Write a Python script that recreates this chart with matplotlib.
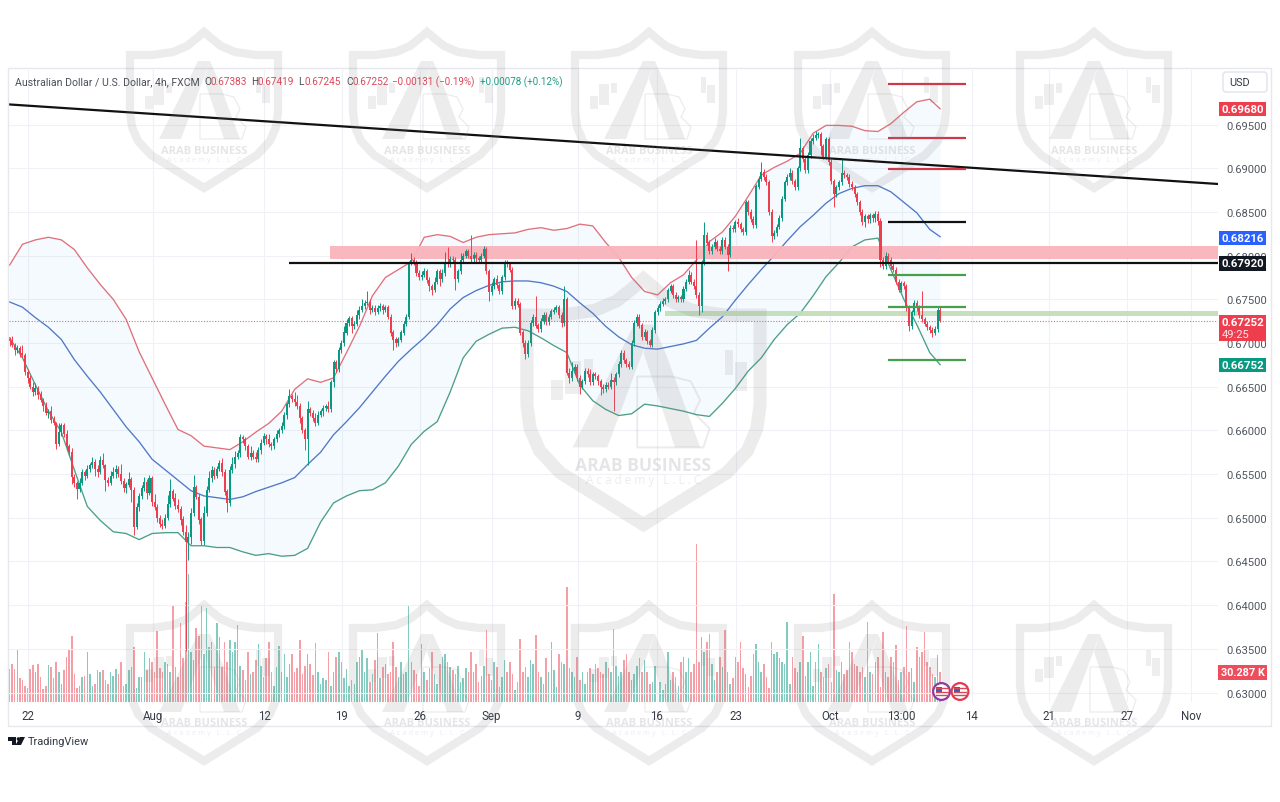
import numpy as np
import matplotlib
matplotlib.use("Agg")
import matplotlib.pyplot as plt
from matplotlib.patches import Rectangle, FancyBboxPatch, Polygon, Circle

plt.rcParams['font.family'] = ['Roboto', 'DejaVu Sans']

# ---------- data (prices in units of 0.0001, volume in thousands) ----------
CLOSES = [
 6702,6698,6692,6694,6688,6686,6667,6660,6650,6644,6648,6641,6635,6628,6620,6622,6612,6608,6585,6598,6606,6596,6582,6575,6547,6540,6533,6540,6552,6548,
 6556,6560,6564,6556,6552,6566,6560,6543,6540,6548,6552,6556,6550,6542,6534,6538,6544,6532,6490,6512,6525,6534,6541,6528,6545,6518,6512,6500,6493,6491,
 6500,6516,6530,6522,6514,6510,6498,6484,6472,6478,6505,6535,6524,6498,6474,6505,6532,6545,6555,6548,6556,6563,6552,6530,6517,6555,6562,6570,6574,6592,
 6590,6582,6570,6574,6570,6567,6578,6586,6593,6590,6584,6582,6590,6596,6600,6605,6618,6630,6639,6636,6632,6628,6614,6600,6590,6624,6620,6614,6609,6618,
 6622,6626,6628,6624,6655,6678,6670,6692,6700,6712,6723,6728,6719,6722,6732,6738,6742,6746,6747,6738,6740,6736,6740,6742,6738,6741,6730,6712,6704,6700,
 6704,6712,6722,6730,6792,6795,6792,6780,6775,6778,6782,6772,6765,6761,6770,6782,6773,6780,6792,6790,6796,6795,6773,6782,6795,6800,6805,6800,6796,6801,
 6797,6795,6800,6807,6782,6758,6765,6773,6766,6759,6775,6792,6790,6784,6742,6748,6744,6712,6700,6687,6700,6723,6730,6720,6716,6725,6732,6724,6730,6736,
 6738,6741,6732,6723,6750,6666,6660,6668,6673,6660,6650,6656,6668,6664,6655,6664,6662,6656,6650,6647,6652,6650,6658,6655,6664,6676,6689,6680,6676,6673,
 6700,6723,6730,6720,6707,6712,6702,6698,6715,6735,6740,6745,6748,6750,6760,6765,6755,6750,6752,6750,6762,6770,6778,6770,6765,6755,6742,6792,6824,6815,
 6805,6810,6815,6808,6805,6818,6810,6801,6832,6830,6838,6836,6830,6827,6861,6850,6842,6835,6879,6888,6896,6890,6884,6850,6822,6826,6833,6843,6865,6884,
 6890,6895,6885,6878,6900,6923,6910,6898,6915,6931,6935,6938,6939,6925,6913,6933,6907,6885,6870,6878,6884,6895,6892,6890,6882,6878,6870,6861,6850,6838,
 6845,6842,6846,6843,6848,6840,6795,6788,6800,6795,6788,6784,6770,6761,6768,6765,6740,6719,6735,6746,6740,6732,6727,6722,6718,6715,6712,6716,6738,6725.2,
]
UPPER_WICK = [
 3,6,2,4,3,10,2,3,3,5,6,3,4,2,4,3,6,4,2,10,3,3,4,2,5,3,2,6,4,3,
 4,3,6,3,4,5,8,2,4,5,6,4,3,12,4,3,8,3,3,5,3,4,6,3,4,3,9,4,3,6,
 4,10,14,3,6,8,3,4,8,6,6,14,3,3,3,8,4,8,4,3,3,3,5,4,3,4,8,6,3,4,
 3,3,3,8,3,5,3,4,4,3,6,3,3,4,3,5,3,3,8,3,8,8,3,3,3,10,3,3,6,4,
 3,3,2,6,3,3,3,4,3,8,4,3,3,3,6,4,8,3,12,3,4,4,3,4,3,3,3,3,3,3,
 3,3,3,3,2,8,3,3,4,4,4,3,3,3,6,3,3,5,12,18,3,3,3,3,8,3,3,3,24,3,
 3,3,3,4,3,3,5,3,5,3,3,3,3,3,3,3,3,3,3,3,3,3,3,24,3,4,3,3,3,3,
 3,3,3,3,15,3,5,10,3,3,3,3,3,3,6,3,3,3,3,3,3,3,8,3,3,3,3,3,3,3,
 3,3,3,3,3,4,3,3,3,3,3,3,3,3,3,3,3,3,3,3,3,3,5,3,3,53,3,3,14,3,
 3,3,5,3,3,3,3,3,3,3,3,5,3,3,3,3,3,3,3,3,11,3,3,3,3,3,3,3,3,3,
 3,5,3,3,3,12,3,3,3,4,4,5,3,3,3,3,3,3,3,3,3,15,3,3,3,3,3,3,3,3,
 3,3,3,3,3,3,3,3,4,3,3,3,3,3,3,3,3,3,3,3,3,3,27,3,3,3,3,3,4,3.5,
]
LOWER_WICK = [
 5,3,6,3,4,2,4,6,3,5,3,5,3,6,2,6,3,2,6,3,4,3,5,3,8,5,12,3,3,5,
 3,4,3,8,5,2,3,12,4,3,3,6,3,3,4,6,3,14,10,3,4,3,3,6,2,4,3,5,3,4,
 3,3,4,3,4,3,6,4,124,20,8,3,3,5,5,5,3,3,4,4,3,3,4,4,10,3,4,5,3,4,
 4,5,3,4,3,3,3,5,3,6,3,5,3,3,4,3,3,5,3,3,4,3,5,3,12,30,4,3,4,3,
 3,5,4,3,3,5,3,3,3,4,3,3,7,3,3,4,3,3,3,5,3,4,3,3,5,3,3,4,12,5,
 4,3,3,3,3,3,3,3,3,3,3,3,5,6,3,3,8,3,3,3,3,3,12,3,3,3,3,3,3,3,
 4,3,3,3,3,10,3,3,3,3,3,3,3,3,3,3,3,3,5,5,3,3,3,3,3,3,3,3,3,3,
 3,3,3,5,3,3,6,3,3,3,8,3,3,3,3,3,3,4,10,4,3,3,3,33,3,3,3,3,3,3,
 3,3,3,3,3,3,3,3,3,3,3,3,3,3,3,3,3,3,3,3,3,3,3,3,3,3,10,6,3,3,
 3,3,3,3,3,3,3,19,3,3,3,3,3,3,3,3,3,3,3,3,3,3,3,3,6,3,3,3,3,3,
 3,3,3,3,3,3,3,3,3,3,3,3,3,10,3,3,3,3,14,3,3,3,3,3,3,3,3,3,3,3,
 5,5,5,5,5,5,8,3,3,3,3,3,3,3,3,3,3,5,3,3,3,3,3,3,3,3,5,3,3,0.7,
]
VOLUME = [
 33,38,33,52,24,22,16,14,33,37,30,38,25,13,16,37,35,24,40,30,18,32,45,52,66,28,14,16,25,26,
 50,28,16,18,32,30,32,22,18,30,26,33,28,40,16,18,32,35,55,14,25,25,50,32,44,40,30,71,34,30,
 40,38,30,96,35,25,79,44,100,128,50,42,74,66,96,48,94,55,60,35,79,65,35,60,40,62,50,60,77,36,
 32,22,50,28,30,42,58,36,25,44,60,30,16,35,56,30,48,25,38,48,30,34,62,28,36,48,38,27,59,30,
 18,24,22,50,16,30,45,50,40,24,33,16,22,18,40,45,52,30,44,20,28,42,69,24,35,38,28,30,60,35,
 25,40,28,30,97,40,32,28,16,58,30,22,34,50,28,18,38,45,48,40,35,32,28,36,20,24,34,30,50,30,
 38,20,26,36,72,28,22,40,35,15,25,42,30,40,28,12,20,63,30,35,25,42,38,67,30,25,18,44,30,60,
 32,15,48,40,38,115,34,30,25,45,22,30,18,30,34,28,38,34,30,28,40,34,30,73,36,26,30,42,48,30,
 22,28,36,44,30,42,30,18,20,36,40,20,12,18,50,22,30,25,16,40,45,30,44,30,38,158,40,65,50,60,
 68,38,22,30,45,35,72,30,18,24,45,40,60,34,28,15,26,48,58,40,30,38,25,14,60,48,50,44,40,38,
 80,18,45,34,30,40,66,26,40,50,16,40,58,30,25,34,38,20,108,32,30,40,28,32,60,50,38,36,30,35,
 25,80,30,28,40,45,15,70,30,25,45,40,57,22,30,35,76,30,34,20,55,45,50,70,40,35,28,25,47,30.3,
]
BAND_BARS = list(range(0, 360, 5)) + [359]
BB_UPPER = [6789,6813,6818,6821,6818,6807,6786,6767,6750,6727,6690,6660,6630,6601,6594,6582,6580,6578,6587,6598,6608,6622,6647,6659,6655,6660,6689,6719,6754,6775,6784,6793,6821,6824,6822,6815,6821,6824,6825,6826,6830,6832,6829,6831,6836,6834,6815,6798,6775,6759,6755,6769,6778,6795,6816,6827,6845,6868,6892,6901,6908,6917,6940,6949,6949,6948,6943,6942,6951,6964,6976,6979,6968]
BB_MID = [6747,6741,6729,6718,6704,6681,6662,6644,6624,6604,6587,6567,6555,6543,6531,6525,6523,6521,6524,6530,6535,6540,6546,6561,6575,6595,6610,6626,6644,6662,6679,6693,6706,6721,6739,6752,6760,6766,6770,6771,6771,6769,6765,6759,6746,6734,6719,6707,6698,6694,6693,6696,6699,6703,6717,6730,6749,6767,6784,6800,6817,6833,6846,6860,6871,6877,6880,6880,6873,6861,6849,6830,6821.6]
BB_LOWER = [6706,6683,6652,6622,6598,6555,6513,6497,6484,6482,6475,6482,6483,6483,6468,6468,6466,6466,6461,6457,6459,6456,6457,6465,6495,6517,6525,6531,6532,6540,6559,6584,6599,6610,6644,6683,6702,6710,6717,6718,6714,6706,6697,6689,6652,6634,6624,6617,6619,6630,6628,6625,6622,6618,6616,6631,6648,6668,6683,6704,6721,6734,6754,6776,6792,6810,6818,6820,6784,6750,6721,6689,6675.2]

TREND_PRICES = [0.6973, 0.6882]
SUPPORT_LEVEL = 0.6792
PINK_ZONE = [0.67965, 0.68115]
GREEN_ZONE = [0.67305, 0.67365]
RED_LEVELS = [0.6996, 0.6935, 0.6899]
BLACK_LEVELS = [0.6839]
GREEN_LEVELS = [0.6778, 0.6741, 0.6681]

PRICE_TICKS = [0.63, 0.635, 0.64, 0.645, 0.65, 0.655, 0.66, 0.665, 0.67, 0.675, 0.68, 0.685, 0.69, 0.695]
TIME_TICK_BARS = [7.1, 55.3, 98.2, 128.2, 158.3, 186, 219.2, 249.7, 280.2, 316.4, 344.2, 371.2, 400.9, 431, 455.7]
TIME_TICK_LABELS = ['22', 'Aug', '12', '19', '26', 'Sep', '9', '16', '23', 'Oct', '13:00', '14', '21', '27', 'Nov']

# ---------- figure ----------
W, H = 1280, 803
fig = plt.figure(figsize=(W / 100, H / 100), dpi=100, facecolor='white')
L, R, T, B = 9, 1218, 71, 703
ax = fig.add_axes([L / W, 1 - B / H, (R - L) / W, (B - T) / H])
vol = ax.twinx()
ax.set_zorder(vol.get_zorder() + 1)
ax.patch.set_visible(False)

c = np.array(CLOSES) / 1e4
o = np.r_[c[0] + 0.0002, c[:-1]]
hi = np.maximum(o, c) + np.array(UPPER_WICK) / 1e4
lo = np.minimum(o, c) - np.array(LOWER_WICK) / 1e4
idx = np.arange(len(c))
UP, DOWN = '#089981', '#ee3e4e'
col = np.where(c >= o, UP, DOWN)

vol.bar(idx, VOLUME, width=0.6, color=col, alpha=0.5, linewidth=0)
vol.set_ylim(0, B - T)
vol.set_yticks([])

ax.fill_between(BAND_BARS, np.array(BB_UPPER) / 1e4, np.array(BB_LOWER) / 1e4,
                color='#2196f3', alpha=0.045, linewidth=0, zorder=1)
ax.plot(BAND_BARS, np.array(BB_UPPER) / 1e4, color='#e0707c', lw=0.95, zorder=2)
ax.plot(BAND_BARS, np.array(BB_MID) / 1e4, color='#4f78c8', lw=0.95, zorder=2)
ax.plot(BAND_BARS, np.array(BB_LOWER) / 1e4, color='#4c9f86', lw=0.95, zorder=2)

ax.vlines(idx, lo, hi, colors=col, lw=0.7, zorder=3)
ax.bar(idx, np.abs(c - o) + 1e-5, bottom=np.minimum(o, c), width=0.78, color=col, linewidth=0, zorder=4)

XMIN, XMAX = -0.2, 466.2
YMIN, YMAX = 0.628920, 0.701240
ax.set_xlim(XMIN, XMAX)
ax.set_ylim(YMIN, YMAX)
bar_at = lambda px: (px - 9.5) / 2.593

# annotations
ax.plot([bar_at(9), bar_at(1218)], TREND_PRICES, color='#111111', lw=1.6, zorder=6)
ax.hlines(SUPPORT_LEVEL, bar_at(289), XMAX, color='#111111', lw=1.6, zorder=6)
ax.axhspan(PINK_ZONE[0], PINK_ZONE[1], xmin=(330 - L) / (R - L), xmax=1, color='#f9b4bb', alpha=0.95, lw=0, zorder=2.5)
ax.axhspan(GREEN_ZONE[0], GREEN_ZONE[1], xmin=(665 - L) / (R - L), xmax=1, color='#c3dfbb', alpha=0.95, lw=0, zorder=2.5)
ax.hlines(RED_LEVELS, bar_at(888), bar_at(966), color='#d0384a', lw=1.6, zorder=6)
ax.hlines(BLACK_LEVELS, bar_at(888), bar_at(966), color='#111111', lw=1.6, zorder=6)
ax.hlines(GREEN_LEVELS, bar_at(888), bar_at(966), color='#46a04b', lw=1.6, zorder=6)
ax.hlines(c[-1], XMIN, XMAX, color='#e0707c', lw=0.8, linestyles=(0, (1, 1.5)), zorder=2.6)

# axes furniture
ax.set_xticks(TIME_TICK_BARS)
ax.set_xticklabels(TIME_TICK_LABELS)
ax.yaxis.tick_right()
ax.set_yticks(PRICE_TICKS)
ax.set_yticklabels(['%.5f' % p for p in PRICE_TICKS])
ax.tick_params(axis='x', length=0, pad=5, labelsize=8.3, labelcolor='#333a45')
ax.tick_params(axis='y', length=0, pad=6, labelsize=8.1, labelcolor='#50555f')
ax.grid(True, color='#eff1f6', lw=0.8, zorder=0)
ax.set_axisbelow(True)
for a in (ax, vol):
    for s in a.spines.values():
        s.set_visible(False)

# ---------- overlay in pixel space ----------
ov = fig.add_axes([0, 0, 1, 1], zorder=20)
ov.set_xlim(0, W)
ov.set_ylim(H, 0)
ov.axis('off')
ov.patch.set_visible(False)
ov.add_patch(Rectangle((8, 69), 1263, 658, fill=False, ec='#e6e8ee', lw=1))


def shield(cx, top, s=1.0):
    gc = '#808080'
    a = 0.15
    xs = [0, -7, -17, -31, -52, -74, -74, -72, -66, -53, 0]
    ys = [5, 11, 19, 25, 28, 28, 85, 100, 114, 128, 161]
    right = [(-x, y) for x, y in zip(xs[::-1], ys[::-1])][1:]
    pts = [(cx + x * s, top + y * s) for x, y in list(zip(xs, ys)) + right]
    ov.add_patch(Polygon(pts, closed=True, fill=False, ec=gc, alpha=a, lw=6.0 * s, joinstyle='miter'))
    rel = lambda P: [(cx + x * s, top + y * s) for x, y in P]
    # letter A legs
    ov.add_patch(Polygon(rel([(-6, 34), (6, 34), (-23, 112), (-45, 112)]), fc=gc, alpha=a, lw=0))
    ov.add_patch(Polygon(rel([(6, 34), (14, 52), (36, 112), (20, 112), (0, 52)]), fc=gc, alpha=a, lw=0))
    # letter B outline
    verts = rel([(-4, 67), (18, 67), (30, 70), (36, 82), (32, 90), (42, 100), (38, 112), (-4, 112), (-4, 67)])
    ov.add_patch(Polygon(verts, closed=True, fill=False, ec=gc, alpha=a, lw=0.9 * s))
    # candle glyphs
    for x0, x1, y0, y1 in [(-59, -51, 69, 82), (-50, -40, 57, 78), (-38, -32, 56, 66),
                           (52, 57, 50, 66), (58, 66, 58, 76)]:
        ov.add_patch(Rectangle((cx + x0 * s, top + y0 * s), (x1 - x0) * s, (y1 - y0) * s, fc=gc, alpha=a * 0.9, lw=0))
    ov.text(cx, top + 123 * s, 'ARAB BUSINESS', ha='center', va='center', fontsize=8.0 * s,
            fontweight='bold', color='#808080', alpha=0.2, family='Open Sans')
    ov.text(cx, top + 132.5 * s, 'A c a d e m y   L . L . C', ha='center', va='center', fontsize=5.4 * s,
            color='#808080', alpha=0.15, family='Open Sans')


for cx in (204, 427, 649, 872, 1094):
    shield(cx, 28)
    shield(cx, 601)
shield(643.5, 272, 1.575)

# legend
GREY, RED_T, GREEN_T = '#4a4f5a', '#d9485a', '#1f9c86'
ov.text(15, 82, 'Australian Dollar / U.S. Dollar, 4h, FXCM', fontsize=7.6, color=GREY, va='center')
for x, lab, val in [(204, 'O', '0.67383'), (251, 'H', '0.67419'), (298, 'L', '0.67245'), (346, 'C', '0.67252')]:
    ov.text(x, 82, lab, fontsize=7.2, color=GREY, va='center')
    ov.text(x + 6.5, 82, val, fontsize=7.2, color=RED_T, va='center')
ov.text(392, 82, '\u22120.00131 (\u22120.19%)', fontsize=7.1, color=RED_T, va='center')
ov.text(480, 82, '+0.00078 (+0.12%)', fontsize=7.1, color=GREEN_T, va='center')

# USD box
ov.add_patch(FancyBboxPatch((1223, 73), 44, 20, boxstyle='round,pad=0,rounding_size=3', fc='white', ec='#e0e3eb', lw=1))
ov.text(1229, 83, 'USD', fontsize=7.8, color='#333a45', va='center')

# badges
for y0, y1, colr, txt in [(103, 117, '#ee3e4e', '0.69680'), (232, 246, '#2962ff', '0.68216'),
                          (257, 272, '#131722', '0.67920'), (359, 373, '#089981', '0.66752')]:
    ov.add_patch(Rectangle((1219, y0), 47, y1 - y0, fc=colr, lw=0))
    ov.text(1242.5, (y0 + y1) / 2, txt, ha='center', va='center', fontsize=8.2, fontweight='bold', color='white')
ov.add_patch(Rectangle((1219, 316), 47, 26, fc='#ee3e4e', lw=0))
ov.text(1242.5, 323, '0.67252', ha='center', va='center', fontsize=8.2, fontweight='bold', color='white')
ov.text(1236, 335, '49:25', ha='center', va='center', fontsize=8, color='#ffe4e6')
ov.add_patch(Rectangle((1218, 666), 49, 15, fc='#ee4e5c', lw=0))
ov.text(1242.5, 673.5, '30.287 K', ha='center', va='center', fontsize=7.8, fontweight='bold', color='white')

# event flags
for cx, ec in ((941.5, '#8e3b9e'), (960, '#e23b4d')):
    ov.add_patch(Circle((cx, 692.5), 8.4, fc='white', ec=ec, lw=1.6))
    for dy in (-3.5, 0, 3.5):
        ov.plot([cx - 6, cx + 6], [692.5 + dy, 692.5 + dy], color='#d9485a', lw=1)
    ov.add_patch(Rectangle((cx - 6, 687.5), 6, 5, fc='#3b5fb0', lw=0))

# TradingView logo
TVC = '#131722'
ov.add_patch(Polygon([(8, 738), (16, 738), (16, 746), (12, 746), (12, 742), (8, 742)], fc=TVC, lw=0))
ov.add_patch(Circle((18.5, 740), 1.8, fc=TVC, lw=0))
ov.add_patch(Polygon([(20, 738), (25, 738), (21, 746), (15.5, 746)], fc=TVC, lw=0))
ov.text(28, 742, 'TradingView', fontsize=7.9, color='#333a45', va='center')

fig.savefig('out.png', dpi=100, facecolor='white')
